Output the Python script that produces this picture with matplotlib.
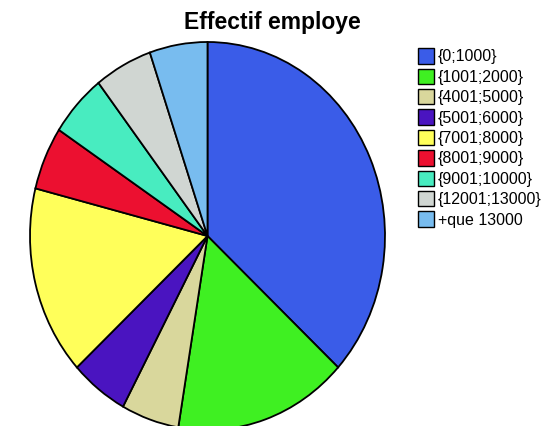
import matplotlib
matplotlib.use("Agg")
import matplotlib.pyplot as plt
from matplotlib.patches import Patch

# --------------- data ---------------
categories = ["{0;1000}", "{1001;2000}", "{4001;5000}", "{5001;6000}",
              "{7001;8000}", "{8001;9000}", "{9001;10000}", "{12001;13000}",
              "+que 13000"]
counts = [7, 3, 1, 1, 3, 1, 1, 1, 1]
colors = ["#3a5ce8", "#3ff022", "#d9d79c", "#4a14c0", "#ffff5a",
          "#ec1030", "#48ecc0", "#d0d6d2", "#78bcef"]

fig = plt.figure(figsize=(5.44, 4.26), dpi=100)
fig.patch.set_facecolor("white")

ax = fig.add_axes([30 / 544, 1 - 430 / 426, 355 / 544, 388 / 426])
ax.pie(counts, colors=colors, startangle=90, counterclock=False,
       wedgeprops=dict(edgecolor="black", linewidth=1.3))
ax.set_aspect("auto")
ax.set_xlim(-1.0, 1.0)
ax.set_ylim(-1.0, 1.0)
ax.axis("off")

fig.text(272 / 544, 1 - 22 / 426, "Effectif employe", ha="center", va="center",
         fontsize=16.5, fontweight="bold", family="Liberation Sans")

handles = [Patch(facecolor=c, edgecolor="black", linewidth=1.0) for c in colors]
fig.legend(handles, categories, loc="upper left",
           bbox_to_anchor=(407 / 544, 1 - 37 / 426), frameon=False,
           handlelength=1.0, handleheight=1.1,
           handletextpad=0.25, labelspacing=0.27, borderpad=0.2,
           prop={"family": "Liberation Sans", "size": 11.5})

fig.savefig("out.png", dpi=100)
